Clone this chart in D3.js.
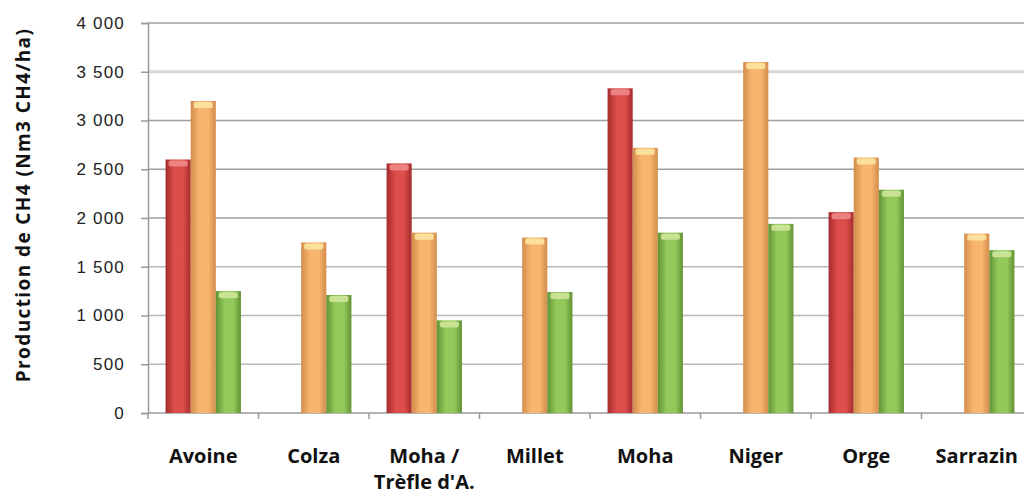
<!DOCTYPE html>
<html>
<head>
<meta charset="utf-8">
<script src="https://cdn.jsdelivr.net/npm/d3@7"></script>
<style>
  body { margin: 0; background: #fff; }
  svg { display: block; font-family: "Open Sans", "DejaVu Sans", sans-serif; }
</style>
</head>
<body>
<script>
// values (null = no bar)
var categories = ["Avoine", "Colza", "Moha / Trèfle d'A.", "Millet", "Moha", "Niger", "Orge", "Sarrazin"];
var series = ["s1", "s2", "s3"];
var redValues    = [2600, null, 2560, null, 3330, null, 2060, null];
var orangeValues = [3200, 1750, 1850, 1800, 2720, 3600, 2620, 1840];
var greenValues  = [1250, 1210, 950, 1240, 1850, 1940, 2290, 1670];
var yTicks = [0, 500, 1000, 1500, 2000, 2500, 3000, 3500, 4000];
var yTitle = "Production de CH4 (Nm3 CH4/ha)";

function createChart(width = 1024, height = 494) {
  var plotLeft = 148, plotRight = 1032, plotTop = 23, plotBottom = 413;

  var svg = d3.select("body").append("svg")
    .attr("width", width)
    .attr("height", height);

  var x = d3.scaleBand()
    .domain(categories)
    .range([plotLeft, plotRight]);

  var xs = d3.scaleBand()
    .domain(series)
    .range([0, x.bandwidth()])
    .paddingOuter(0.7)
    .paddingInner(0);

  var y = d3.scaleLinear()
    .domain([0, 4000])
    .range([plotBottom, plotTop]);

  var colors = {
    s1: { edge: "#a52a2c", mid: "#dc4d4b", cap: "#ee8a86" },
    s2: { edge: "#d38c4c", mid: "#f8b56e", cap: "#fbe6a0" },
    s3: { edge: "#629235", mid: "#92c95a", cap: "#cfe69a" }
  };

  var defs = svg.append("defs");
  series.forEach(s => {
    var g = defs.append("linearGradient")
      .attr("id", "g-" + s)
      .attr("x1", 0).attr("x2", 1).attr("y1", 0).attr("y2", 0);
    g.append("stop").attr("offset", "0%").attr("stop-color", colors[s].edge);
    g.append("stop").attr("offset", "35%").attr("stop-color", colors[s].mid);
    g.append("stop").attr("offset", "70%").attr("stop-color", colors[s].mid);
    g.append("stop").attr("offset", "100%").attr("stop-color", colors[s].edge);
  });

  // grid
  svg.append("g")
    .selectAll("line")
    .data(yTicks.filter(d => d > 0))
    .join("line")
      .attr("x1", plotLeft)
      .attr("x2", width)
      .attr("y1", d => y(d))
      .attr("y2", d => y(d))
      .attr("stroke", d => d == 3500 ? "#d6d6d6" : (d < 2000 ? "#b8b8b8" : "#9f9f9f"))
      .attr("stroke-width", d => d == 3500 ? 3 : 1.5);

  // y axis
  var yAxis = g => g
    .attr("transform", `translate(${plotLeft},0)`)
    .call(d3.axisLeft(y)
      .tickValues(yTicks)
      .tickSize(7)
      .tickPadding(16)
      .tickFormat(d => d3.format(",")(d).replace(",", " ")))
    .call(g => g.selectAll(".domain, line").attr("stroke", "#9a9a9a").attr("stroke-width", 1.5))
    .call(g => g.selectAll("text")
      .attr("fill", "#222")
      .attr("font-size", 17)
      .style("letter-spacing", "1.2px"));

  svg.append("g").call(yAxis);

  // x axis
  svg.append("line")
    .attr("x1", plotLeft).attr("x2", width)
    .attr("y1", plotBottom).attr("y2", plotBottom)
    .attr("stroke", "#9a9a9a").attr("stroke-width", 1.5);

  svg.append("g")
    .selectAll("line")
    .data(categories)
    .join("line")
      .attr("x1", d => x(d))
      .attr("x2", d => x(d))
      .attr("y1", plotBottom)
      .attr("y2", plotBottom + 6)
      .attr("stroke", "#9a9a9a")
      .attr("stroke-width", 1.5);

  var rows = categories.map((c, i) => ({
    cat: c,
    vals: [
      { s: "s1", v: redValues[i] },
      { s: "s2", v: orangeValues[i] },
      { s: "s3", v: greenValues[i] }
    ].filter(d => d.v != null)
  }));

  var groups = svg.append("g")
    .selectAll("g")
    .data(rows)
    .join("g")
      .attr("transform", d => `translate(${x(d.cat)},0)`);

  groups.selectAll("rect.bar")
    .data(d => d.vals)
    .join("rect")
      .attr("class", "bar")
      .attr("x", d => xs(d.s))
      .attr("width", xs.bandwidth())
      .attr("y", d => y(d.v))
      .attr("height", d => y(0) - y(d.v))
      .attr("fill", d => `url(#g-${d.s})`);

  groups.selectAll("rect.cap")
    .data(d => d.vals)
    .join("rect")
      .attr("class", "cap")
      .attr("x", d => xs(d.s) + 3)
      .attr("width", xs.bandwidth() - 6)
      .attr("y", d => y(d.v) + 1)
      .attr("height", 6)
      .attr("rx", 2)
      .attr("fill", d => colors[d.s].cap)
      .attr("opacity", 0.9);

  // category labels
  var labels = svg.append("g")
    .selectAll("text")
    .data(categories)
    .join("text")
      .attr("y", 463)
      .attr("text-anchor", "middle")
      .attr("font-size", 20)
      .attr("font-weight", "bold")
      .attr("fill", "#111");

  labels.each(function(d) {
    var parts = d.indexOf(" / ") > 0 ? [d.split(" / ")[0] + " /", d.split(" / ")[1]] : [d];
    d3.select(this).selectAll("tspan")
      .data(parts)
      .join("tspan")
        .attr("x", x(d) + x.bandwidth() / 2)
        .attr("dy", (p, i) => i == 0 ? 0 : 26)
        .text(p => p);
  });

  // y title
  svg.append("text")
    .attr("transform", `translate(30,205) rotate(-90)`)
    .attr("text-anchor", "middle")
    .attr("font-size", 19)
    .attr("font-weight", "bold")
    .attr("fill", "#111")
    .style("letter-spacing", "1.4px")
    .text(yTitle);

  return svg.node();
}

createChart();
</script>
</body>
</html>
